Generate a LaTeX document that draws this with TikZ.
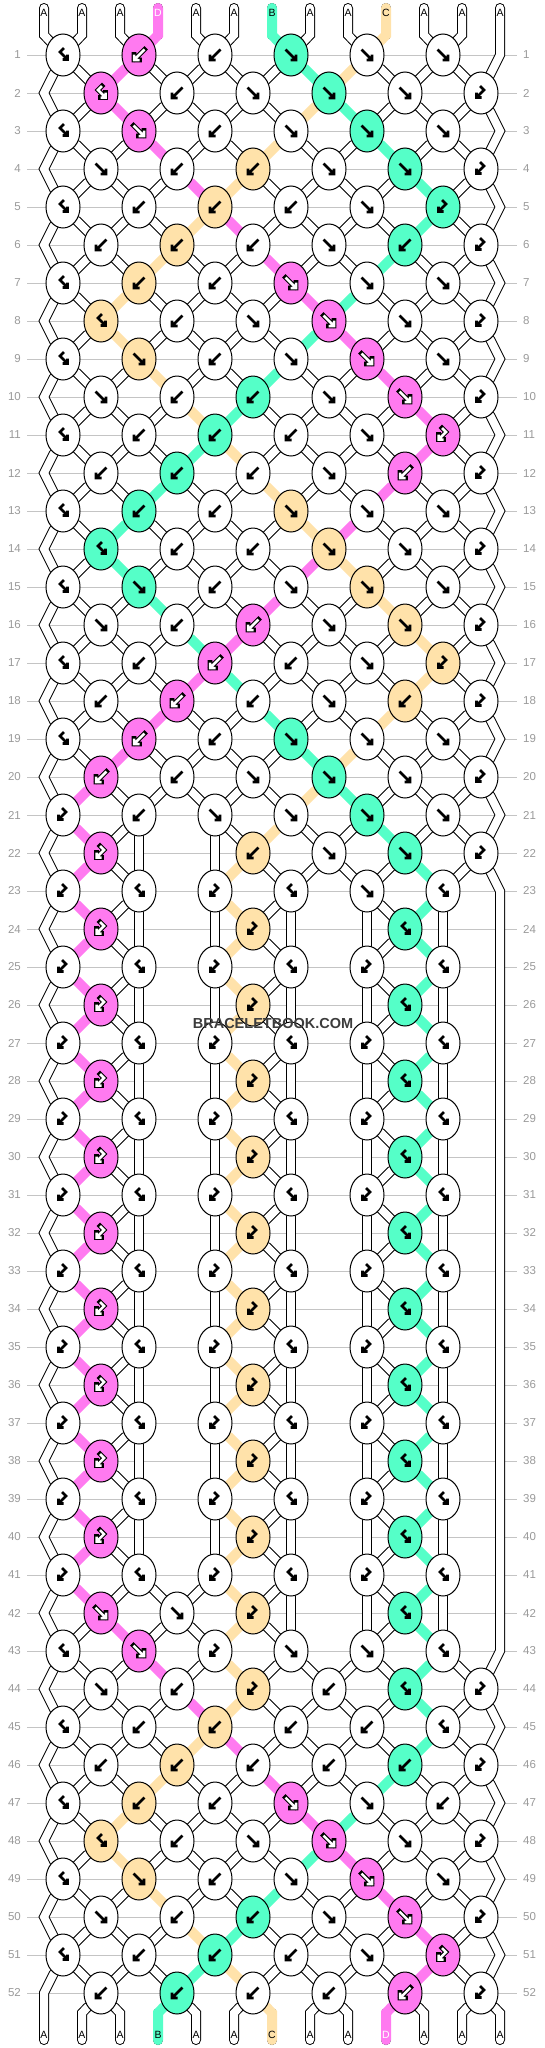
\documentclass[tikz,border=0pt]{standalone}
\usepackage{fontspec}
\setmainfont{Liberation Sans}
\usetikzlibrary{shapes.geometric}
\pgfdeclarelayer{rules}
\pgfdeclarelayer{under}
\pgfdeclarelayer{over}
\pgfsetlayers{rules,under,over,main}
\definecolor{strA}{HTML}{FFFFFF}
\definecolor{strB}{HTML}{55FFC8}
\definecolor{strC}{HTML}{FFE2AA}
\definecolor{strD}{HTML}{FF7AF0}
\definecolor{rulegray}{HTML}{C4C4C4}
\definecolor{numgray}{HTML}{9A9A9A}
\definecolor{markgray}{HTML}{3C3C3C}
\tikzset{
  knotnode/.style={ellipse, draw=black, line width=1pt, minimum width=34pt, minimum height=42pt, inner sep=0pt},
  bandout/.style={draw=black, line width=10pt, line cap=round, line join=miter},
  bandin/.style={draw=white, line width=8pt, line cap=round, line join=miter},
  bandcol/.style={line width=10pt, line cap=round, line join=miter},
  tailcol/.style={line width=8pt, line cap=round, line join=miter},
  symdark/.style={draw=black, line width=2.7pt, line join=miter},
  symedge/.style={draw=black, line width=4.7pt, line join=miter, line cap=rect},
  symlight/.style={draw=white, line width=2.5pt, line join=miter},
  rowrule/.style={draw=rulegray, line width=1pt},
  rownum/.style={text=numgray, font=\fontsize{11.5}{12}\selectfont, inner sep=0pt},
  taillabel/.style={font=\fontsize{10.5}{11}\selectfont, inner sep=0pt},
  watermark/.style={text=markgray, font=\bfseries\fontsize{14.5}{15}\selectfont, inner sep=0pt},
}
\def\tyF{f}\def\tyB{b}\def\tyFB{fb}\def\tyBF{bf}
\gdef\underlist{}\gdef\overlist{}\gdef\taillist{}
\newcommand\defrow[2]{\expandafter\gdef\csname KR#1\endcsname{#2}}
\newcommand\symshape[2]{%
  \ifx#1\tyB \draw[#2] (5.5,-5.5) -- (-4.2,4.2) (-5,-0.5) -- (-5,5) -- (0.5,5);\fi
  \ifx#1\tyF \draw[#2] (-5.5,-5.5) -- (4.2,4.2) (5,-0.5) -- (5,5) -- (-0.5,5);\fi
  \ifx#1\tyBF \draw[#2] (1,-7) -- (-3,-3) -- (3.7,3.7) (4.5,-0.5) -- (4.5,4.5) -- (-0.5,4.5);\fi
  \ifx#1\tyFB \draw[#2] (-1,-7) -- (3,-3) -- (-3.7,3.7) (-4.5,-0.5) -- (-4.5,4.5) -- (0.5,4.5);\fi
}
\newcommand\addto[2]{\xdef#1{\unexpanded\expandafter{#1}\unexpanded\expandafter{#2}}}
\newcommand\band[3]{%
  \if A#1%
    \edef\bcmd{\noexpand\draw[bandout] #2 -- (#3.center);}%
    \addto\underlist\bcmd
    \edef\bcmd{\noexpand\draw[bandin] #2 -- (#3.center);}%
  \else
    \edef\bcmd{\noexpand\draw[bandcol, draw=str#1] #2 -- (#3.center);}%
  \fi
  \addto\overlist\bcmd
}
% outlined tail piece for a coloured string
\newcommand\tailpiece[3]{%
  \if A#1\else
    \edef\bcmd{\noexpand\draw[bandout] (#2.center) -- (#3.center);}%
    \addto\underlist\bcmd
    \edef\bcmd{\noexpand\draw[tailcol, draw=str#1] (#2.center) -- (#3.center);}%
    \addto\taillist\bcmd
  \fi
}
\newcommand\swapS{%
  \expandafter\xdef\csname S\pL\endcsname{\cR}%
  \expandafter\xdef\csname S\pR\endcsname{\cL}%
}
\newcommand\knot[3]{%
  \pgfmathtruncatemacro\pL{#2}%
  \pgfmathtruncatemacro\pR{#2+1}%
  \edef\cL{\csname S\pL\endcsname}%
  \edef\cR{\csname S\pR\endcsname}%
  \edef\kt{#3}%
  \ifx\kt\tyF \edef\kc{\cL}\fi
  \ifx\kt\tyFB \edef\kc{\cL}\fi
  \ifx\kt\tyB \edef\kc{\cR}\fi
  \ifx\kt\tyBF \edef\kc{\cR}\fi
  \ifnum#2=1 \gdef\edgeL{1}\fi
  \ifnum#2=12 \gdef\edgeR{1}\fi
  \pgfmathsetmacro\kx{25+38*#2}%
  \pgfmathsetmacro\ky{17+38*#1}%
  \node[knotnode, fill=str\kc] (k#1-#2) at (\kx,\ky) {};
  \band{\cL}{\csname P\pL\endcsname}{k#1-#2}%
  \band{\cR}{\csname P\pR\endcsname}{k#1-#2}%
  \expandafter\xdef\csname P\pL\endcsname{(k#1-#2)}%
  \expandafter\xdef\csname P\pR\endcsname{(k#1-#2)}%
  \ifx\kt\tyF \swapS\fi
  \ifx\kt\tyB \swapS\fi
  \begin{scope}[shift={(\kx,\ky)}]
    \if D\kc \symshape\kt{symedge}\symshape\kt{symlight}\else \symshape\kt{symdark}\fi
  \end{scope}
}
\newcommand\waypoint[2]{%
  \pgfmathsetmacro\wx{6+38*#2}%
  \pgfmathsetmacro\wy{17+38*#1}%
  \coordinate (w#1-#2) at (\wx,\wy);
  \expandafter\xdef\csname P#2\endcsname{\csname P#2\endcsname\space-- (w#1-#2)}%
}
\defrow{1}{1/bf,3/b,5/b,7/f,9/f,11/f}
\defrow{2}{2/bf,4/b,6/f,8/f,10/f,12/fb}
\defrow{3}{1/bf,3/f,5/b,7/f,9/f,11/f}
\defrow{4}{2/f,4/b,6/b,8/f,10/f,12/fb}
\defrow{5}{1/bf,3/b,5/b,7/b,9/f,11/fb}
\defrow{6}{2/b,4/b,6/b,8/f,10/b,12/fb}
\defrow{7}{1/bf,3/b,5/b,7/f,9/f,11/f}
\defrow{8}{2/bf,4/b,6/f,8/f,10/f,12/fb}
\defrow{9}{1/bf,3/f,5/b,7/f,9/f,11/f}
\defrow{10}{2/f,4/b,6/b,8/f,10/f,12/fb}
\defrow{11}{1/bf,3/b,5/b,7/b,9/f,11/fb}
\defrow{12}{2/b,4/b,6/b,8/f,10/b,12/fb}
\defrow{13}{1/bf,3/b,5/b,7/f,9/f,11/f}
\defrow{14}{2/bf,4/b,6/b,8/f,10/f,12/fb}
\defrow{15}{1/bf,3/f,5/b,7/f,9/f,11/f}
\defrow{16}{2/f,4/b,6/b,8/f,10/f,12/fb}
\defrow{17}{1/bf,3/b,5/b,7/b,9/f,11/fb}
\defrow{18}{2/b,4/b,6/b,8/f,10/b,12/fb}
\defrow{19}{1/bf,3/b,5/b,7/f,9/f,11/f}
\defrow{20}{2/b,4/b,6/f,8/f,10/f,12/fb}
\defrow{21}{1/fb,3/b,5/f,7/f,9/f,11/f}
\defrow{22}{2/fb,6/b,8/f,10/f,12/fb}
\defrow{23}{1/fb,3/bf,5/fb,7/bf,9/f,11/bf}
\defrow{42}{2/f,4/f,6/fb,10/bf}
\defrow{43}{1/bf,3/f,5/fb,7/f,9/f,11/bf}
\defrow{44}{2/f,4/b,6/fb,8/b,10/bf,12/fb}
\defrow{45}{1/bf,3/b,5/b,7/b,9/b,11/bf}
\defrow{46}{2/b,4/b,6/b,8/b,10/b,12/fb}
\defrow{47}{1/bf,3/b,5/b,7/f,9/f,11/b}
\defrow{48}{2/bf,4/b,6/f,8/f,10/f,12/fb}
\defrow{49}{1/bf,3/f,5/b,7/f,9/f,11/f}
\defrow{50}{2/f,4/b,6/b,8/f,10/f,12/fb}
\defrow{51}{1/bf,3/b,5/b,7/b,9/f,11/fb}
\defrow{52}{2/b,4/b,6/b,8/b,10/b,12/fb}
\begin{document}
\begin{tikzpicture}[x=1pt,y=-1pt]
\useasboundingbox (0,0) rectangle (544,2048);
\foreach \rr in {24,26,...,40}{\expandafter\xdef\csname KR\rr\endcsname{2/fb,6/fb,10/bf}}
\foreach \rr in {25,27,...,41}{\expandafter\xdef\csname KR\rr\endcsname{1/fb,3/bf,5/fb,7/bf,9/fb,11/bf}}
\begin{pgfonlayer}{rules}
  \fill[white] (0,0) rectangle (544,2048);
  \foreach \rowi in {1,...,52}{\pgfmathsetmacro\ry{17+38*\rowi}\draw[rowrule] (27,\ry) -- (517,\ry);}
\end{pgfonlayer}
\foreach \rowi in {1,...,52}{%
  \pgfmathsetmacro\ry{17+38*\rowi}%
  \node[rownum, anchor=east] (nl\rowi) at (21,\ry) {\rowi};
  \node[rownum, anchor=west] (nr\rowi) at (523,\ry) {\rowi};
}
\foreach \sletter [count=\pos] in {A,A,A,D,A,A,B,A,A,C,A,A,A}{%
  \pgfmathsetmacro\sx{6+38*\pos}%
  \coordinate (top\pos) at (\sx,8);
  \coordinate (tt\pos) at (\sx,35);
  \expandafter\xdef\csname S\pos\endcsname{\sletter}%
  \expandafter\xdef\csname P\pos\endcsname{(top\pos) -- (tt\pos)}%
  \edef\cmd{\noexpand\tailpiece{\sletter}{top\pos}{tt\pos}}\cmd
}
\foreach \rowi in {1,...,52}{%
  \gdef\edgeL{0}\gdef\edgeR{0}%
  \edef\klist{\csname KR\rowi\endcsname}%
  \foreach \kcol/\ktyp in \klist {%
    \edef\cmd{\noexpand\knot{\rowi}{\kcol}{\ktyp}}\cmd
  }%
  \ifnum\edgeL=0 \edef\cmd{\noexpand\waypoint{\rowi}{1}}\cmd\fi
  \ifnum\edgeR=0 \edef\cmd{\noexpand\waypoint{\rowi}{13}}\cmd\fi
}
\foreach \pos in {1,...,13}{%
  \pgfmathsetmacro\sx{6+38*\pos}%
  \coordinate (bb\pos) at (\sx,2013);
  \coordinate (bot\pos) at (\sx,2040);
  \edef\cmd{\noexpand\band{\csname S\pos\endcsname}{\csname P\pos\endcsname\space-- (bb\pos)}{bot\pos}}\cmd
  \edef\cmd{\noexpand\tailpiece{\csname S\pos\endcsname}{bb\pos}{bot\pos}}\cmd
}
\begin{pgfonlayer}{under}
\underlist
\end{pgfonlayer}
\begin{pgfonlayer}{over}
\overlist
\taillist
\end{pgfonlayer}
\foreach \sletter [count=\pos] in {A,A,A,D,A,A,B,A,A,C,A,A,A}{%
  \pgfmathsetmacro\sx{6+38*\pos}%
  \if D\sletter \def\lc{white}\else\def\lc{black}\fi
  \node[taillabel, text=\lc] (lt\pos) at (\sx,13) {\sletter};
}
\foreach \sletter [count=\pos] in {A,A,A,B,A,A,C,A,A,D,A,A,A}{%
  \pgfmathsetmacro\sx{6+38*\pos}%
  \if D\sletter \def\lc{white}\else\def\lc{black}\fi
  \node[taillabel, text=\lc] (lb\pos) at (\sx,2035) {\sletter};
}
\node[watermark] (mark) at (273,1023) {BRACELETBOOK.COM};
\end{tikzpicture}
\end{document}
